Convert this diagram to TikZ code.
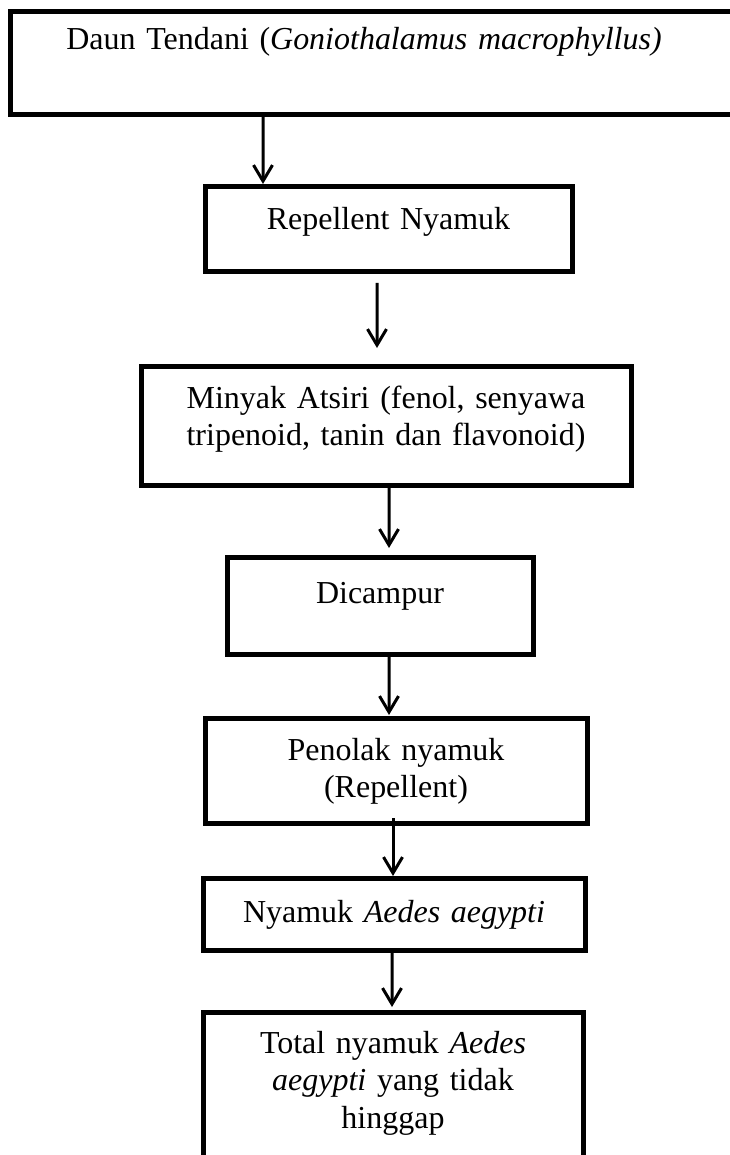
\documentclass[tikz,border=0pt]{standalone}
\usepackage{fontspec}
\setmainfont{Liberation Serif}
\usetikzlibrary{arrows.meta}

\begin{document}
\begin{tikzpicture}[
  box/.style={draw, line width=0.1cm, inner sep=0pt, outer sep=0pt, align=center, anchor=north,
    font=\fontsize{18.2pt}{21.6pt}\selectfont},
  arr/.style={->, line width=0.06cm},
  >={Straight Barb[length=0.32cm, width=0.38cm]}]
%		\draw[help lines] (0,0) grid (14,-23);
\useasboundingbox (0,0) rectangle (14.58,-23.1);
\node[box, text width=14.7cm, text height=0.76cm, text depth=1.3cm] (daun) at (7.55,-0.24) {Daun Tendani (\textit{Goniothalamus macrophyllus)}\rule{0.54cm}{0pt}};
\node[box, text width=7.34cm, text height=0.86cm, text depth=0.84cm] (repellent) at (7.77,-3.74) {Repellent Nyamuk};
\node[box, text width=9.8cm, text height=0.84cm, text depth=1.54cm] (minyak) at (7.72,-7.32) {Minyak Atsiri (fenol, senyawa\\ tripenoid, tanin dan flavonoid)};
\node[box, text width=6.12cm, text height=0.92cm, text depth=1.02cm] (campur) at (7.6,-11.14) {Dicampur};
\node[box, text width=7.64cm, text height=0.84cm, text depth=1.26cm] (penolak) at (7.92,-14.36) {Penolak nyamuk\\ (Repellent)};
\node[box, text width=7.64cm, text height=0.88cm, text depth=0.56cm] (aedes) at (7.88,-17.56) {Nyamuk \textit{Aedes aegypti}};
\node[box, text width=7.6cm, text height=0.82cm, text depth=2.54cm] (total) at (7.86,-20.24) {Total nyamuk \textit{Aedes}\\ \textit{aegypti} yang tidak\\ hinggap};
\draw[arr] ([xshift=-2.29cm]daun.south) -- ([xshift=-2.51cm, yshift=0.06cm]repellent.north);
\draw[arr] ([xshift=-0.23cm, yshift=-0.22cm]repellent.south) -- ([xshift=-0.18cm, yshift=0.36cm]minyak.north);
\draw[arr] ([xshift=0.06cm]minyak.south) -- ([xshift=0.18cm, yshift=0.18cm]campur.north);
\draw[arr] ([xshift=0.18cm]campur.south) -- ([xshift=-0.14cm, yshift=0.06cm]penolak.north);
\draw[arr] ([xshift=-0.06cm, yshift=0.1cm]penolak.south) -- ([xshift=-0.02cm, yshift=0.04cm]aedes.north);
\draw[arr] ([xshift=-0.04cm]aedes.south) -- ([xshift=-0.02cm, yshift=0.1cm]total.north);
\end{tikzpicture}
\end{document}
